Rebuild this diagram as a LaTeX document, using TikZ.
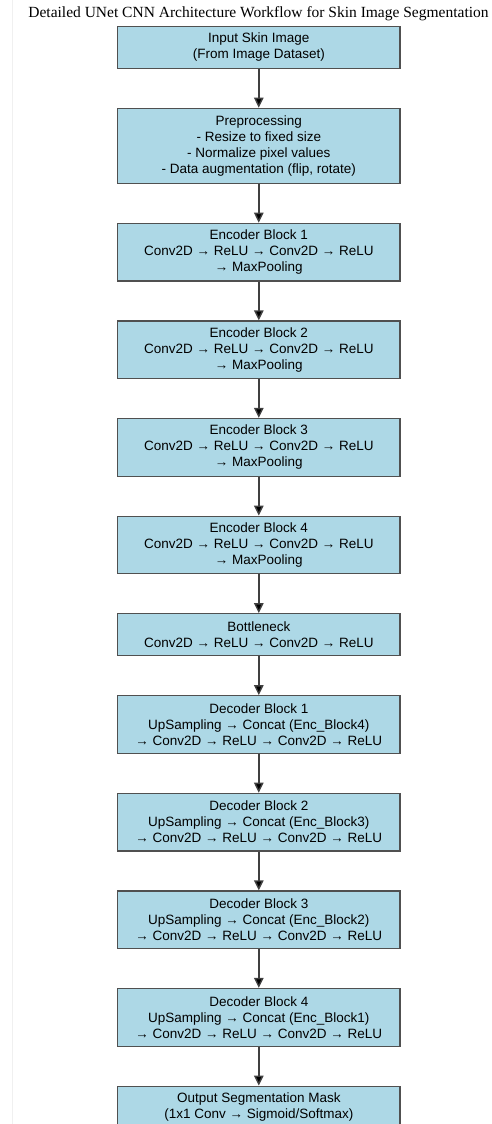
\documentclass[tikz,border=0pt]{standalone}
\usepackage{fontspec}
\setmainfont{Liberation Sans}
\newfontfamily\titlefont{Liberation Serif}
\usetikzlibrary{arrows.meta}
\definecolor{boxfill}{HTML}{ADD8E6}
\definecolor{boxline}{HTML}{505050}
\definecolor{arrline}{HTML}{404040}
\tikzset{
  stage/.style={draw=boxline, fill=boxfill, line width=1.2pt, rectangle,
    minimum width=282.3pt, inner sep=0pt, align=center,
    font=\fontsize{13.5}{16}\selectfont},
  flow/.style={draw=arrline, line width=1.4pt,
    -{Triangle[length=10pt,width=9.5pt,fill=black]}},
}
\begin{document}
\begin{tikzpicture}[x=1pt,y=-1pt]
\useasboundingbox (0,0) rectangle (491,1124);
\fill[white] (0,0) rectangle (491,1124);
\draw[gray!12, line width=0.6pt] (12.5,0) -- (12.5,1124);
\node[font=\fontsize{15.5}{18}\selectfont\titlefont] (title) at (258.5,13.3)
  {Detailed UNet CNN Architecture Workflow for Skin Image Segmentation};
\node[stage, minimum height=41.6pt] (inp) at (258.8,47.5)
  {Input Skin Image\\(From Image Dataset)};
\node[stage, minimum height=75pt] (pre) at (258.8,145.8)
  {Preprocessing\\- Resize to fixed size\\- Normalize pixel values\\- Data augmentation (flip, rotate)};
\node[stage, minimum height=57.6pt] (e1) at (258.8,252.1)
  {Encoder Block 1\\Conv2D → ReLU → Conv2D → ReLU\\→ MaxPooling};
\node[stage, minimum height=57.6pt] (e2) at (258.8,349.7)
  {Encoder Block 2\\Conv2D → ReLU → Conv2D → ReLU\\→ MaxPooling};
\node[stage, minimum height=57.6pt] (e3) at (258.8,447.3)
  {Encoder Block 3\\Conv2D → ReLU → Conv2D → ReLU\\→ MaxPooling};
\node[stage, minimum height=57.6pt] (e4) at (258.8,544.9)
  {Encoder Block 4\\Conv2D → ReLU → Conv2D → ReLU\\→ MaxPooling};
\node[stage, minimum height=42pt] (bn) at (258.8,634.7)
  {Bottleneck\\Conv2D → ReLU → Conv2D → ReLU};
\node[stage, minimum height=57.6pt] (d1) at (258.8,724.5)
  {Decoder Block 1\\UpSampling → Concat (Enc\_Block4)\\→ Conv2D → ReLU → Conv2D → ReLU};
\node[stage, minimum height=57.6pt] (d2) at (258.8,822.1)
  {Decoder Block 2\\UpSampling → Concat (Enc\_Block3)\\→ Conv2D → ReLU → Conv2D → ReLU};
\node[stage, minimum height=57.6pt] (d3) at (258.8,919.7)
  {Decoder Block 3\\UpSampling → Concat (Enc\_Block2)\\→ Conv2D → ReLU → Conv2D → ReLU};
\node[stage, minimum height=57.6pt] (d4) at (258.8,1017.3)
  {Decoder Block 4\\UpSampling → Concat (Enc\_Block1)\\→ Conv2D → ReLU → Conv2D → ReLU};
\node[stage, minimum height=41.6pt] (out) at (258.8,1106.9)
  {Output Segmentation Mask\\(1x1 Conv → Sigmoid/Softmax)};
\foreach \a/\b in {inp/pre,pre/e1,e1/e2,e2/e3,e3/e4,e4/bn,bn/d1,d1/d2,d2/d3,d3/d4,d4/out}
  \draw[flow] (\a.south) -- (\b.north);
\end{tikzpicture}
\end{document}
